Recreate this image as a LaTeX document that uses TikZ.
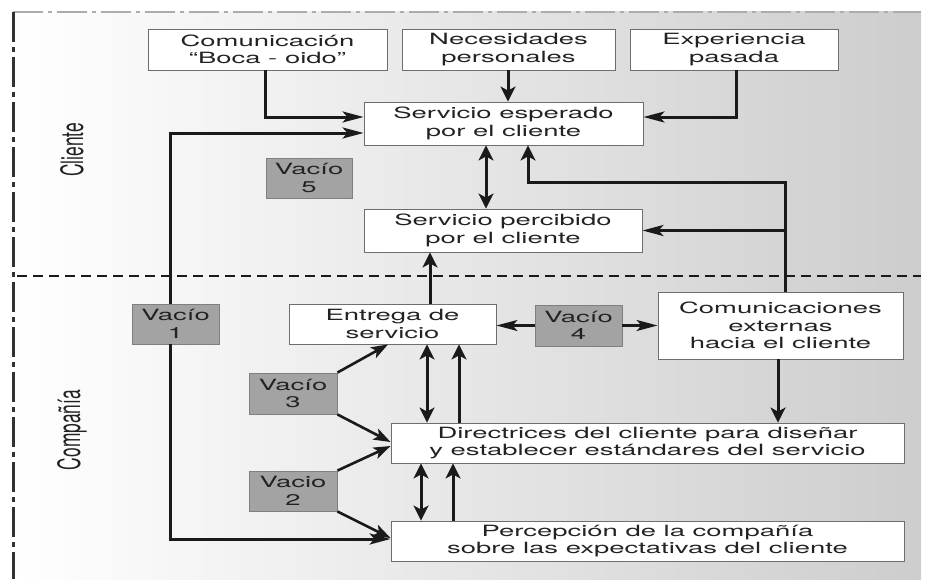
\documentclass[tikz,border=0pt]{standalone}
\usepackage{fontspec}
\usepackage{graphicx}
\setmainfont{TeX Gyre Heros}[FakeStretch=1.77]
\newfontfamily\sidefont{TeX Gyre Heros}
\usetikzlibrary{arrows.meta}
\definecolor{ink}{HTML}{1A1A1A}
\definecolor{boxline}{HTML}{6E6E6E}
\definecolor{txt}{HTML}{222222}
\definecolor{gapfill}{HTML}{A3A3A3}
\definecolor{gapline}{HTML}{7F7F7F}
\definecolor{bgR}{HTML}{CDCDCD}
\begin{document}
\begin{tikzpicture}[x=1pt,y=-1pt,
  box/.style={draw=boxline, fill=white, line width=0.9pt, align=center, inner sep=0pt, text=txt,
              font=\fontsize{15.5}{17.5}\selectfont},
  gapbox/.style={box, fill=gapfill, draw=gapline},
  sidelabel/.style={rotate=90, text=txt, font=\sidefont\fontsize{17.4}{20}\selectfont},
  vtip/.tip={Stealth[length=15pt,width=15pt,inset=4pt]},
  htip/.tip={Stealth[length=21pt,width=11pt,inset=5pt]},
  dtip/.tip={Stealth[length=17pt,width=12pt,inset=4pt]},
  conn/.style={draw=ink, line width=3pt},
  harr/.style={conn, -htip},
  varr/.style={conn, -vtip},
  vdarr/.style={conn, vtip-vtip},
  darrow/.style={conn, line width=2.6pt, -dtip}]
\useasboundingbox (0,0) rectangle (925,583);
% background
\fill[left color=white, right color=bgR] (13,12) rectangle (921,579);
\draw[gray!65, line width=1.8pt, dash pattern=on 30pt off 5pt on 4pt off 5pt] (13,12) -- (921,12);
\draw[ink!90, line width=3pt, dash pattern=on 30pt off 5pt on 5pt off 5pt] (13,12) -- (13,579);
% divider
\draw[ink, line width=1.8pt, dash pattern=on 10pt off 6pt] (17,276) -- (921,276);

% side labels
\node[sidelabel] (cli) at (72,150) {\scalebox{1}[1.77]{Cliente}};
\node[sidelabel] (cia) at (72,430) {\scalebox{1}[1.77]{Compañía}};

% boxes
\node[box, minimum width=239pt, minimum height=41pt] (com) at (267.5,49.5) {Comunicación\\“Boca - oido”};
\node[box, minimum width=213pt, minimum height=41pt] (nec) at (508.5,49.5) {Necesidades\\personales};
\node[box, minimum width=208pt, minimum height=41pt] (exp) at (734,49.5) {Experiencia\\pasada};
\node[box, minimum width=279pt, minimum height=43pt] (esp) at (503.5,123.5) {Servicio esperado\\por el cliente};
\node[box, minimum width=278pt, minimum height=43pt] (per) at (503,230.5) {Servicio percibido\\por el cliente};
\node[box, minimum width=207pt, minimum height=40pt] (ent) at (392.5,324) {Entrega de\\servicio};
\node[box, minimum width=245pt, minimum height=67pt] (cext) at (780.5,325.5) {Comunicaciones\\externas\\hacia el cliente};
\node[box, minimum width=513pt, minimum height=40pt] (dir) at (647.5,443) {Directrices del cliente para diseñar\\y establecer estándares del servicio};
\node[box, minimum width=513pt, minimum height=40pt] (pcp) at (647.5,541) {Percepción de la compañía\\sobre las expectativas del cliente};

\node[gapbox, minimum width=86pt, minimum height=40pt] (v5) at (309,178) {Vacío\\5};
\node[gapbox, minimum width=87pt, minimum height=40pt] (v1) at (175.5,324) {Vacío\\1};
\node[gapbox, minimum width=87pt, minimum height=41pt] (v4) at (578.5,325.5) {Vacío\\4};
\node[gapbox, minimum width=88pt, minimum height=41pt] (v3) at (293,393.5) {Vacío\\3};
\node[gapbox, minimum width=88pt, minimum height=40pt] (v2) at (293,491) {Vacio\\2};

% connectors, client side
\draw[harr] (265,0 |- com.south) |- (esp.west |- 0,117);
\draw[varr] (508,0 |- nec.south) -- (508,0 |- esp.north);
\draw[harr] (736,0 |- exp.south) |- (esp.east |- 0,117);
\draw[vdarr] (486,0 |- esp.south) -- (486,0 |- per.north);
\draw[varr] (785,0 |- cext.north) -- (785,182) -| (528,0 |- esp.south);
\draw[harr] (785,0 |- per.east) -- (per.east);
\draw[varr] (430,0 |- ent.north) -- (430,0 |- per.south);

% gap 1
\draw[harr] (170,0 |- v1.north) |- (esp.west |- 0,133);
\draw[harr] (170,0 |- v1.south) |- (pcp.west |- 0,539);

% gap 4
\draw[harr, line width=2.6pt] (v4.west) -- (v4.west -| ent.east);
\draw[harr, line width=2.6pt] (v4.east) -- (v4.east -| cext.west);
\draw[varr] (778,0 |- cext.south) -- (778,0 |- dir.north);

% gap 3 and 2
\draw[darrow] (v3.north east) -- (388,0 |- ent.south);
\draw[darrow] (v3.south east) -- (dir.west |- 0,442);
\draw[darrow] (v2.north east) -- (dir.west |- 0,446);
\draw[darrow] (v2.south east) -- (pcp.west |- 0,538);

% company internal
\draw[vdarr] (427,0 |- ent.south) -- (427,0 |- dir.north);
\draw[varr] (459,0 |- dir.north) -- (459,0 |- ent.south);
\draw[vdarr] (421,0 |- dir.south) -- (421,0 |- pcp.north);
\draw[varr] (453,0 |- pcp.north) -- (453,0 |- dir.south);
\end{tikzpicture}
\end{document}
